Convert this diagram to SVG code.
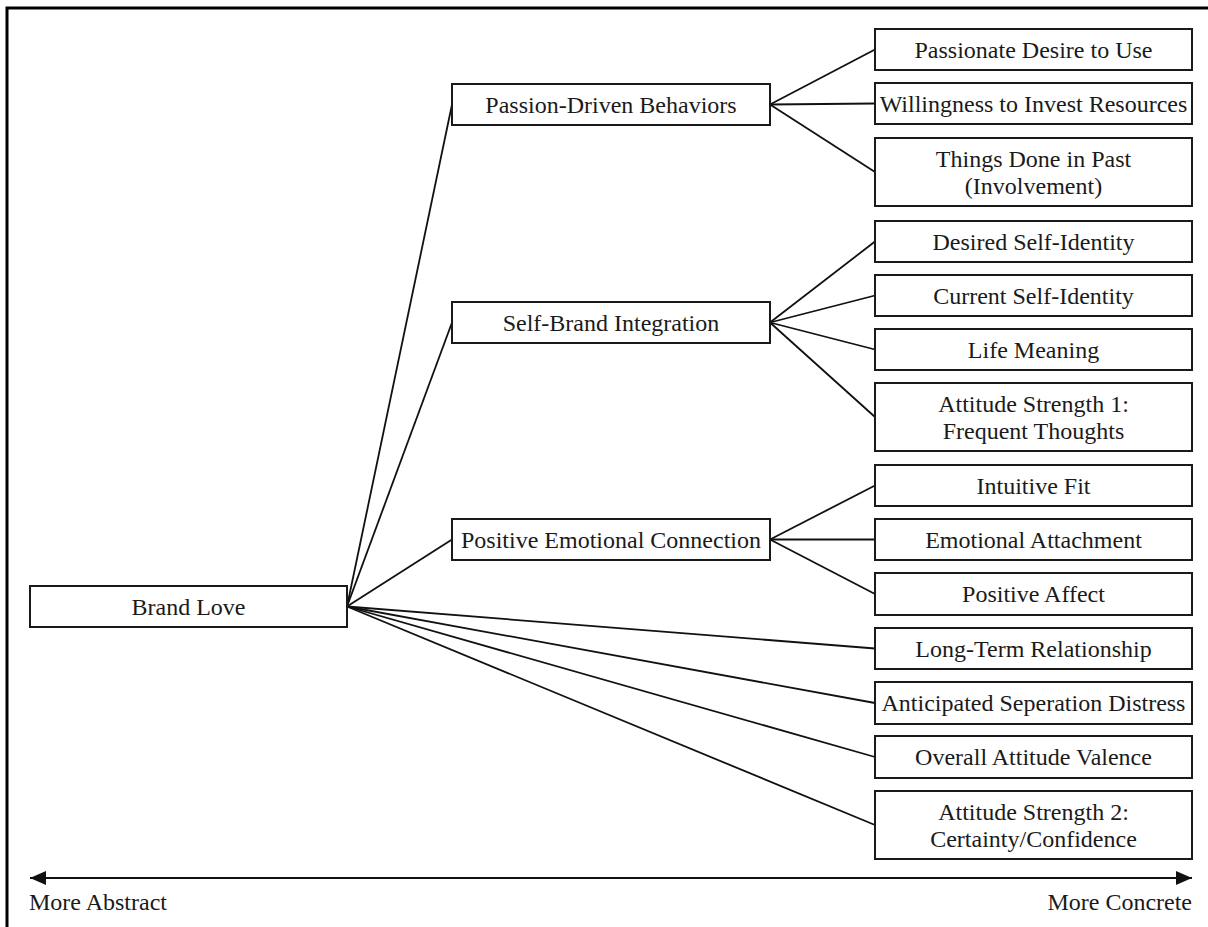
<svg xmlns="http://www.w3.org/2000/svg" width="1208" height="927" viewBox="0 0 1208 927">
  <style>
    .box { fill: #ffffff; stroke: #1a1a1a; stroke-width: 2; }
    .lbl { font-family: "Liberation Serif", "Times New Roman", serif; font-size: 24px; fill: #1a1a1a; text-anchor: middle; }
    .edge { stroke: #111111; stroke-width: 1.8; fill: none; }
    .axis { stroke: #111111; stroke-width: 2; fill: none; }
    .cap { font-family: "Liberation Serif", "Times New Roman", serif; font-size: 24px; fill: #1a1a1a; }
  </style>
  <defs>
    <marker id="head" viewBox="0 0 10 10" refX="10" refY="5" markerWidth="8" markerHeight="8" markerUnits="userSpaceOnUse" orient="auto-start-reverse">
      <path d="M0,0 L10,5 L0,10 Z" fill="#111111"/>
    </marker>
    <marker id="tip" viewBox="0 0 16 14" refX="16" refY="7" markerWidth="16" markerHeight="14" markerUnits="userSpaceOnUse" orient="auto-start-reverse">
      <path d="M0,0 L16,7 L0,14 Z" fill="#111111"/>
    </marker>
  </defs>

  <rect width="1208" height="927" fill="#ffffff"/>

  <!-- frame: top and left rules -->
  <path d="M1208,8 L7,8 L7,927" fill="none" stroke="#000000" stroke-width="3"/>

  <!-- connectors -->
  <g id="connectors" class="edge">
    <!-- Brand Love to its facets -->
    <line x1="347" y1="606.5" x2="452" y2="104.5"/>
    <line x1="347" y1="606.5" x2="452" y2="322.5"/>
    <line x1="347" y1="606.5" x2="452" y2="539.5"/>
    <line x1="347" y1="606.5" x2="875" y2="648.5"/>
    <line x1="347" y1="606.5" x2="875" y2="703"/>
    <line x1="347" y1="606.5" x2="875" y2="757"/>
    <line x1="347" y1="606.5" x2="875" y2="825"/>
    <!-- Passion-Driven Behaviors -->
    <line x1="770" y1="104.5" x2="875" y2="49.5"/>
    <line x1="770" y1="104.5" x2="875" y2="103.5"/>
    <line x1="770" y1="104.5" x2="875" y2="172"/>
    <!-- Self-Brand Integration -->
    <line x1="770" y1="322.5" x2="875" y2="241.5"/>
    <line x1="770" y1="322.5" x2="875" y2="295.5"/>
    <line x1="770" y1="322.5" x2="875" y2="349.5"/>
    <line x1="770" y1="322.5" x2="875" y2="417"/>
    <!-- Positive Emotional Connection -->
    <line x1="770" y1="539.5" x2="875" y2="485.5"/>
    <line x1="770" y1="539.5" x2="875" y2="539.5"/>
    <line x1="770" y1="539.5" x2="875" y2="594"/>
  </g>

  <!-- root -->
  <g id="brand-love">
    <rect class="box" x="30" y="586" width="317" height="41"/>
    <text class="lbl" x="188.5" y="614.5">Brand Love</text>
  </g>

  <!-- second level -->
  <g id="passion-driven-behaviors">
    <rect class="box" x="452" y="84" width="318" height="41"/>
    <text class="lbl" x="611" y="112.5">Passion-Driven Behaviors</text>
  </g>
  <g id="self-brand-integration">
    <rect class="box" x="452" y="302" width="318" height="41"/>
    <text class="lbl" x="611" y="330.5">Self-Brand Integration</text>
  </g>
  <g id="positive-emotional-connection">
    <rect class="box" x="452" y="519" width="318" height="41"/>
    <text class="lbl" x="611" y="547.5">Positive Emotional Connection</text>
  </g>

  <!-- concrete items -->
  <g id="passionate-desire">
    <rect class="box" x="875" y="29" width="317" height="41"/>
    <text class="lbl" x="1033.5" y="57.5">Passionate Desire to Use</text>
  </g>
  <g id="willingness-invest">
    <rect class="box" x="875" y="83" width="317" height="41"/>
    <text class="lbl" x="1033.5" y="111.5">Willingness to Invest Resources</text>
  </g>
  <g id="things-done">
    <rect class="box" x="875" y="138" width="317" height="68"/>
    <text class="lbl" x="1033.5" y="167">Things Done in Past</text>
    <text class="lbl" x="1033.5" y="194">(Involvement)</text>
  </g>
  <g id="desired-self">
    <rect class="box" x="875" y="221" width="317" height="41"/>
    <text class="lbl" x="1033.5" y="249.5">Desired Self-Identity</text>
  </g>
  <g id="current-self">
    <rect class="box" x="875" y="275" width="317" height="41"/>
    <text class="lbl" x="1033.5" y="303.5">Current Self-Identity</text>
  </g>
  <g id="life-meaning">
    <rect class="box" x="875" y="329" width="317" height="41"/>
    <text class="lbl" x="1033.5" y="357.5">Life Meaning</text>
  </g>
  <g id="attitude-strength-1">
    <rect class="box" x="875" y="383" width="317" height="68"/>
    <text class="lbl" x="1033.5" y="412">Attitude Strength 1:</text>
    <text class="lbl" x="1033.5" y="439">Frequent Thoughts</text>
  </g>
  <g id="intuitive-fit">
    <rect class="box" x="875" y="465" width="317" height="41"/>
    <text class="lbl" x="1033.5" y="493.5">Intuitive Fit</text>
  </g>
  <g id="emotional-attachment">
    <rect class="box" x="875" y="519" width="317" height="41"/>
    <text class="lbl" x="1033.5" y="547.5">Emotional Attachment</text>
  </g>
  <g id="positive-affect">
    <rect class="box" x="875" y="573" width="317" height="42"/>
    <text class="lbl" x="1033.5" y="602">Positive Affect</text>
  </g>
  <g id="long-term-relationship">
    <rect class="box" x="875" y="628" width="317" height="41"/>
    <text class="lbl" x="1033.5" y="656.5">Long-Term Relationship</text>
  </g>
  <g id="separation-distress">
    <rect class="box" x="875" y="682" width="317" height="42"/>
    <text class="lbl" x="1033.5" y="711">Anticipated Seperation Distress</text>
  </g>
  <g id="attitude-valence">
    <rect class="box" x="875" y="736" width="317" height="42"/>
    <text class="lbl" x="1033.5" y="765">Overall Attitude Valence</text>
  </g>
  <g id="attitude-strength-2">
    <rect class="box" x="875" y="791" width="317" height="68"/>
    <text class="lbl" x="1033.5" y="820">Attitude Strength 2:</text>
    <text class="lbl" x="1033.5" y="847">Certainty/Confidence</text>
  </g>

  <!-- abstraction axis -->
  <g id="axis">
    <line class="axis" x1="30" y1="878" x2="1192" y2="878" marker-start="url(#tip)" marker-end="url(#tip)"/>
    <text class="cap" x="29" y="910">More Abstract</text>
    <text class="cap" x="1192" y="910" text-anchor="end">More Concrete</text>
  </g>
</svg>
